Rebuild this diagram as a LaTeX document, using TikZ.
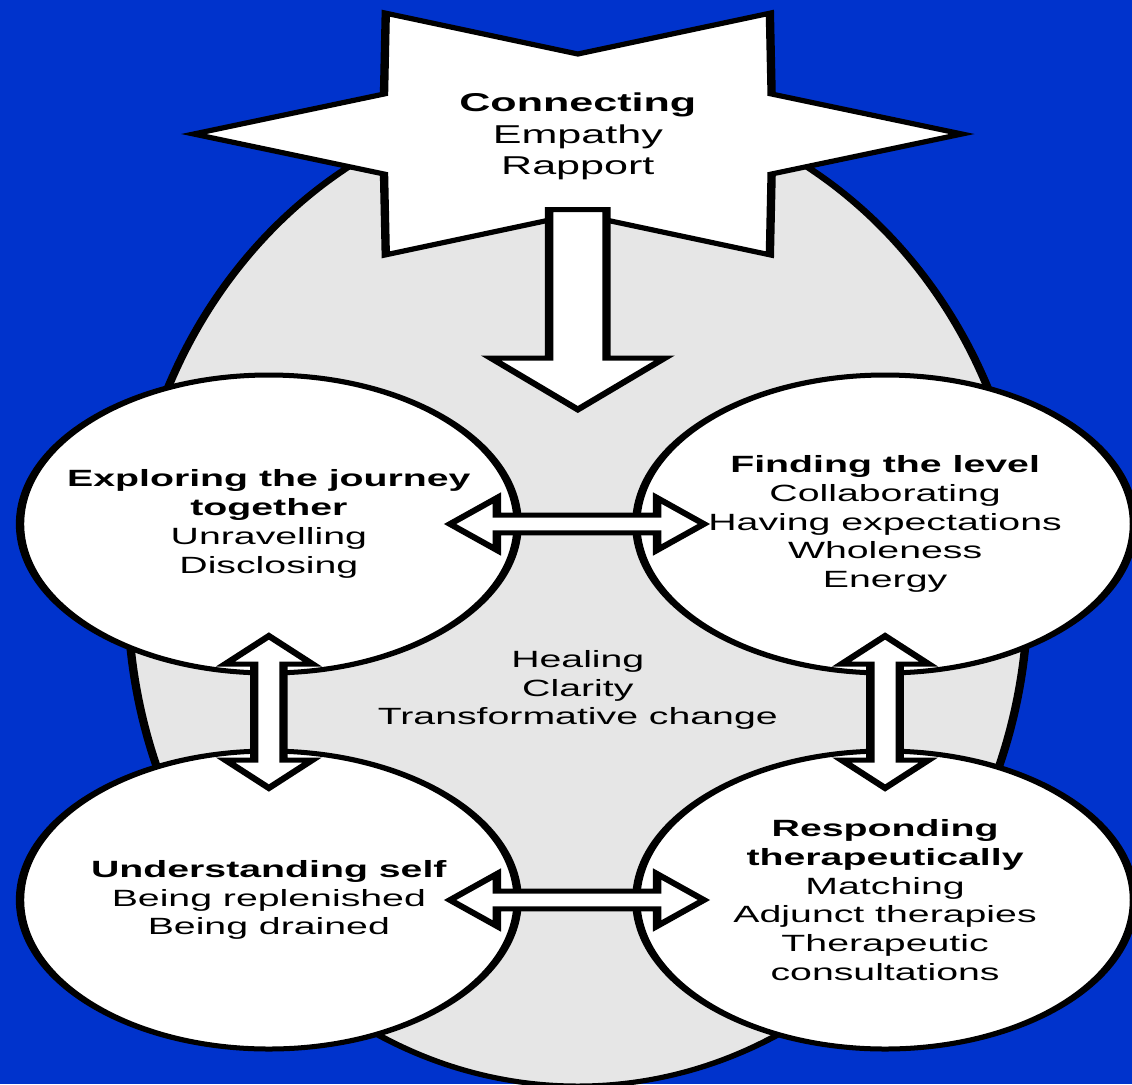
\documentclass[tikz,border=0pt]{standalone}
\usepackage{fontspec}
\setmainfont{Liberation Sans}
\usepackage{tikz}
\definecolor{royal}{HTML}{0033CC}
\definecolor{haze}{HTML}{E6E6E6}
\usetikzlibrary{calc,positioning}
\newcommand\bodysize{\fontsize{11.75}{14.4}\selectfont}
\newcommand\starsize{\fontsize{12.9}{15.75}\selectfont}

\begin{document}
\begin{tikzpicture}[
  x=0.5pt,y=-0.5pt,
  outline/.style={draw=black,line width=2.5pt,line join=miter},
  bubble/.style={circle,outline,fill=white,minimum size=149pt,inner sep=0pt,
                 align=center,font=\bodysize},
  notes/.style={align=center,inner sep=0pt},
  dblarrow/.style={outline,fill=white,to path={
    -- ($(\tikztostart)!14pt!(\tikztotarget)!13pt!90:(\tikztotarget)$)
    -- ($(\tikztostart)!14pt!(\tikztotarget)!4.4pt!90:(\tikztotarget)$)
    -- ($(\tikztotarget)!14pt!(\tikztostart)!4.4pt!-90:(\tikztostart)$)
    -- ($(\tikztotarget)!14pt!(\tikztostart)!13pt!-90:(\tikztostart)$)
    -- (\tikztotarget)
    -- ($(\tikztotarget)!14pt!(\tikztostart)!13pt!90:(\tikztostart)$)
    -- ($(\tikztotarget)!14pt!(\tikztostart)!4.4pt!90:(\tikztostart)$)
    -- ($(\tikztostart)!14pt!(\tikztotarget)!4.4pt!-90:(\tikztotarget)$)
    -- ($(\tikztostart)!14pt!(\tikztotarget)!13pt!-90:(\tikztotarget)$)
    -- cycle}},
  bigarrow/.style={outline,fill=white,to path={
    -- ($(\tikztostart)!8.6pt!90:(\tikztotarget)$)
    -- ($(\tikztotarget)!25.75pt!(\tikztostart)!8.6pt!-90:(\tikztostart)$)
    -- ($(\tikztotarget)!25.75pt!(\tikztostart)!26pt!-90:(\tikztostart)$)
    -- (\tikztotarget)
    -- ($(\tikztotarget)!25.75pt!(\tikztostart)!26pt!90:(\tikztostart)$)
    -- ($(\tikztotarget)!25.75pt!(\tikztostart)!8.6pt!90:(\tikztostart)$)
    -- ($(\tikztostart)!8.6pt!-90:(\tikztotarget)$)
    -- cycle}}]
  \useasboundingbox (0,0) rectangle (1132,1084);
  \clip (0,0) rectangle (1132,1084);
  \fill[royal] (0,0) rectangle (1132,1084);

  % drawn narrow, then widened as a whole
  \begin{scope}[transform canvas={xscale=1.67}]
    \draw[outline,fill=haze] (346,592) ellipse [x radius=269.5,y radius=494];

    % star with the first stage
    \coordinate (hub) at (346,134);
    \draw[outline,fill=white,shift={(hub)}] (0:230 and 139.5)
      \foreach \a in {30,90,...,330}{ -- (\a:134 and 80) -- (\a+30:230 and 139.5)} -- cycle;
    \node[notes,font=\starsize] (connect) at (346,136.5)
      {\textbf{Connecting}\\Empathy\\Rapport};

    \coordinate (drop) at (346,209.5);
    \coordinate (land) at (346,409.5);
    \draw[bigarrow] (drop) to (land);

    % the four stages
    \node[bubble] (explore) at (161,524)
      {\textbf{Exploring the journey}\\\textbf{together}\\Unravelling\\Disclosing};
    \node[bubble,right=33pt of explore] (level)
      {\textbf{Finding the level}\\Collaborating\\Having expectations\\Wholeness\\Energy};
    \node[bubble,below=36.5pt of explore] (self)
      {\textbf{Understanding self}\\Being replenished\\Being drained};
    \node[bubble,below=36.5pt of level] (respond)
      {\textbf{Responding}\\\textbf{therapeutically}\\Matching\\Adjunct therapies\\Therapeutic\\consultations};

    \foreach \a/\b in {explore/level,self/respond,explore/self,level/respond}
      \draw[dblarrow] ($(\a)!.5!(\b)!38pt!(\a)$) to ($(\a)!.5!(\b)!38pt!(\b)$);

    \node[notes,font=\bodysize] (core) at (346,690)
      {Healing\\Clarity\\Transformative change};
  \end{scope}
\end{tikzpicture}
\end{document}
